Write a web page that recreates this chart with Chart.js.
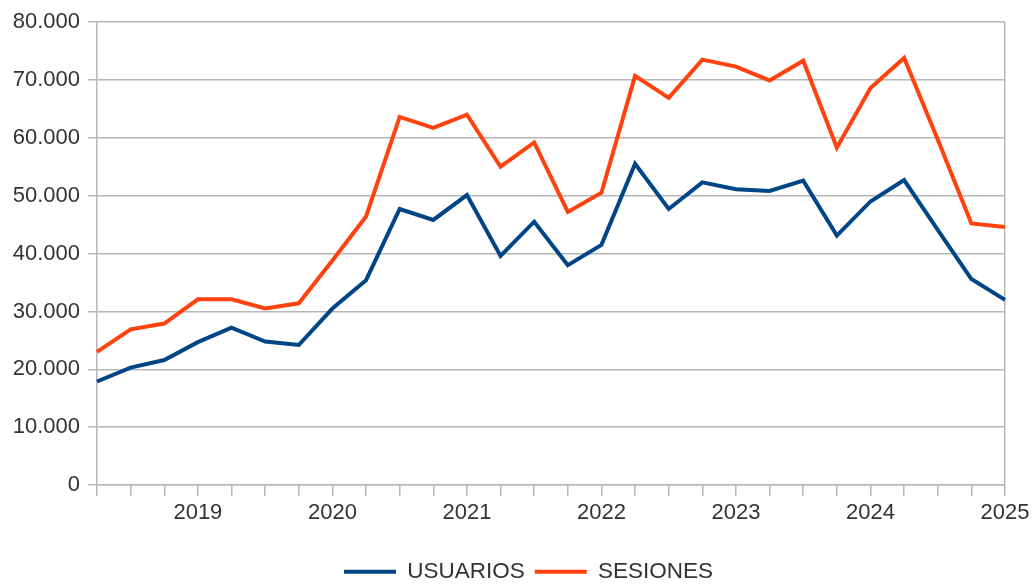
<!DOCTYPE html>
<html>
<head>
<meta charset="utf-8">
<script src="https://cdn.jsdelivr.net/npm/chart.js@4.4.1/dist/chart.umd.min.js"></script>
<style>
  html, body { margin: 0; padding: 0; background: #fff; }
  #wrap { width: 1035px; height: 585px; position: relative; }
</style>
</head>
<body>
<div id="wrap"><canvas id="chart"></canvas></div>
<script>
const trimestres = [
  '2018-T2', '2018-T3', '2018-T4',
  '2019-T1', '2019-T2', '2019-T3', '2019-T4',
  '2020-T1', '2020-T2', '2020-T3', '2020-T4',
  '2021-T1', '2021-T2', '2021-T3', '2021-T4',
  '2022-T1', '2022-T2', '2022-T3', '2022-T4',
  '2023-T1', '2023-T2', '2023-T3', '2023-T4',
  '2024-T1', '2024-T2', '2024-T3', '2024-T4',
  '2025-T1'
];

const usuarios = [
  17900, 20300, 21600,
  24700, 27200, 24800, 24200,
  30500, 35400, 47700, 45800,
  50100, 39600, 45500, 38000,
  41500, 55500, 47700, 52300,
  51100, 50800, 52600, 43100,
  49000, 52700, 44100, 35600,
  32000
];

const sesiones = [
  23000, 26900, 27900,
  32100, 32100, 30500, 31400,
  38800, 46400, 63600, 61700,
  64000, 55000, 59200, 47200,
  50500, 70700, 66900, 73500,
  72300, 69900, 73300, 58300,
  68600, 73800, 59700, 45200,
  44600
];

const yTicks = [0, 10000, 20000, 30000, 40000, 50000, 60000, 70000, 80000];

const gris = '#b8b8b8';
const texto = '#333333';
const fuente = { family: 'Liberation Sans, Arial, sans-serif', size: 22 };

// miles con punto, estilo es-ES
const miles = v => String(v).replace(/\B(?=(\d{3})+(?!\d))/g, '.');

// the legend sits a bit right of the chart's centre in the original
const moverLeyenda = {
  id: 'moverLeyenda',
  afterLayout(chart) {
    chart.legend.left += 26;
    chart.legend.right += 26;
  }
};

const ctx = document.getElementById('chart').getContext('2d');
new Chart(ctx, {
  type: 'line',
  data: {
    labels: trimestres,
    datasets: [
      { label: 'USUARIOS', data: usuarios, borderColor: '#004586', backgroundColor: '#004586', borderWidth: 4 },
      { label: 'SESIONES', data: sesiones, borderColor: '#ff420e', backgroundColor: '#ff420e', borderWidth: 4 }
    ]
  },
  plugins: [moverLeyenda],
  options: {
    responsive: true,
    maintainAspectRatio: false,
    animation: false,
    layout: { padding: { top: 22, right: 30, bottom: -8, left: 0 } },
    elements: {
      point: { radius: 0, hoverRadius: 0 },
      line: { tension: 0, borderJoinStyle: 'miter', borderCapStyle: 'butt' }
    },
    scales: {
      x: {
        offset: false,
        afterFit: s => { s.height += 20; },
        grid: {
          color: c => (c.index === trimestres.length - 1 ? gris : 'rgba(0,0,0,0)'),
          tickColor: gris,
          lineWidth: 1.5,
          drawOnChartArea: true,
          tickLength: 11
        },
        border: { display: true, color: gris, width: 1.5 },
        ticks: {
          autoSkip: false,
          maxRotation: 0,
          padding: 4,
          color: texto,
          font: fuente,
          callback: (v, i) => (trimestres[i].endsWith('T1') ? trimestres[i].slice(0, 4) : '')
        }
      },
      y: {
        min: 0,
        max: 80000,
        afterBuildTicks: s => { s.ticks = yTicks.map(v => ({ value: v })); },
        afterFit: s => { s.width = 97; },
        grid: { color: gris, lineWidth: 1.5, tickLength: 9 },
        border: { display: true, color: gris, width: 1.5 },
        ticks: {
          padding: 8,
          color: texto,
          font: fuente,
          callback: v => miles(v)
        }
      }
    },
    plugins: {
      tooltip: { enabled: false },
      legend: {
        position: 'bottom',
        labels: {
          usePointStyle: true,
          pointStyle: 'line',
          pointStyleWidth: 52,
          boxHeight: 22,
          padding: 10,
          color: texto,
          font: { family: fuente.family, size: 22.5 }
        }
      }
    }
  }
});
</script>
</body>
</html>
